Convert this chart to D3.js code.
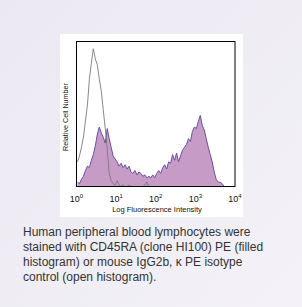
<!DOCTYPE html>
<html lang="en">
<head>
<meta charset="UTF-8">
<title>CD45RA histogram</title>
<script src="https://d3js.org/d3.v7.min.js"></script>
<style>
  body { margin: 0; }
  svg { display: block; }
</style>
</head>
<body>
<svg id="chart" width="302" height="307"></svg>
<script>

// bins of 0.05 decade from 10^0 to 10^4, heights in % of plot height
let binStart = 0;
let binStep = 0.05;

let isotype = [17, 21, 27, 34, 45, 56, 74, 85, 95, 88, 84, 74, 66, 53, 40, 26, 9, 4, 2, 1,
  4, 1, 0, 1, 0, 0, 1, 0, 0, 0, 0, 0, 0, 0, 1, 3, 0, 0, 0, 0];

let cd45ra = [3, 2, 5, 7, 11, 14, 13, 18, 22, 28, 36, 41, 37, 34, 30, 40, 33, 27, 21, 19,
  17, 14, 16, 13, 15, 12, 14, 10, 9, 11, 8, 10, 9, 7, 8, 6, 7, 6, 8, 6,
  9, 11, 9, 13, 15, 12, 17, 16, 22, 18, 23, 17, 21, 25, 27, 29, 33, 31, 38, 41,
  40, 45, 49, 42, 39, 33, 27, 22, 17, 10, 5, 3, 3, 2, 0];

let tickExps = [0, 1, 2, 3, 4];
let xTitle = 'Log Fluorescence Intensity';
let yTitle = 'Relative Cell Number';
let caption = [
  'Human peripheral blood lymphocytes were',
  'stained with CD45RA (clone HI100) PE (filled',
  'histogram) or mouse IgG2b, \u03BA PE isotype',
  'control (open histogram).'
];

let svg = d3.select('#chart');

// page background
let defs = svg.append('defs');
let grad = defs.append('linearGradient').attr('id', 'bg')
  .attr('x1', 0).attr('y1', 0).attr('x2', 1).attr('y2', 1);
grad.append('stop').attr('offset', '0%').attr('stop-color', '#ebe8f1');
grad.append('stop').attr('offset', '100%').attr('stop-color', '#f4f2f8');
svg.append('rect').attr('width', 302).attr('height', 307).attr('fill', 'url(#bg)');

// white panel behind the plot
svg.append('rect').attr('x', 60).attr('y', 34).attr('width', 183).attr('height', 183).attr('fill', '#ffffff');

let plot = { left: 76.5, top: 41.5, right: 235, bottom: 186.5 };

let x = d3.scaleLog().domain([1, 10000]).range([plot.left, plot.right]);
let y = d3.scaleLinear().domain([0, 100]).range([plot.bottom, plot.top]);

let toPoints = function(values) {
  return values.map(function(v, i) {
    return { x: Math.pow(10, binStart + binStep * (i + 0.5)), v: v };
  });
};

let area = d3.area()
  .x(function(d) { return x(d.x); })
  .y0(plot.bottom)
  .y1(function(d) { return y(d.v); });

let line = d3.line()
  .x(function(d) { return x(d.x); })
  .y(function(d) { return y(d.v); });

let cdPts = toPoints(cd45ra);
let isoPts = toPoints(isotype);

svg.append('path').datum(cdPts)
  .attr('d', area)
  .attr('fill', '#c69cc6');

svg.append('path').datum(cdPts)
  .attr('d', line)
  .attr('fill', 'none')
  .attr('stroke', '#6a4ea8')
  .attr('stroke-width', 1);

svg.append('path').datum(isoPts)
  .attr('d', line)
  .attr('fill', 'none')
  .attr('stroke', '#7a7a7a')
  .attr('stroke-width', 0.9);

// frame
svg.append('rect')
  .attr('x', plot.left).attr('y', plot.top)
  .attr('width', plot.right - plot.left).attr('height', plot.bottom - plot.top)
  .attr('fill', 'none').attr('stroke', '#000').attr('stroke-width', 1);

// tick labels 10^n
let ticks = svg.append('g').attr('font-family', 'Liberation Sans, Arial, sans-serif').attr('fill', '#111');
tickExps.forEach(function(e) {
  let t = ticks.append('text')
    .attr('x', x(Math.pow(10, e)))
    .attr('y', 202)
    .attr('text-anchor', 'middle')
    .attr('font-size', 9);
  t.append('tspan').text('10');
  t.append('tspan').attr('dy', -4).attr('font-size', 6).text(e);
});

svg.append('text')
  .attr('x', 157).attr('y', 212)
  .attr('text-anchor', 'middle')
  .attr('font-family', 'Liberation Sans, Arial, sans-serif')
  .attr('font-size', 7.5)
  .attr('fill', '#111')
  .text(xTitle);

svg.append('text')
  .attr('transform', 'translate(68,117) rotate(-90)')
  .attr('text-anchor', 'middle')
  .attr('font-family', 'Liberation Sans, Arial, sans-serif')
  .attr('font-size', 7.2)
  .attr('fill', '#111')
  .text(yTitle);

// caption
svg.append('g').selectAll('text').data(caption).enter().append('text')
  .attr('x', 23)
  .attr('y', function(d, i) { return 236 + i * 15; })
  .attr('font-family', 'Liberation Sans, Arial, sans-serif')
  .attr('font-size', 12)
  .attr('fill', '#333')
  .text(function(d) { return d; });

</script>
</body>
</html>
